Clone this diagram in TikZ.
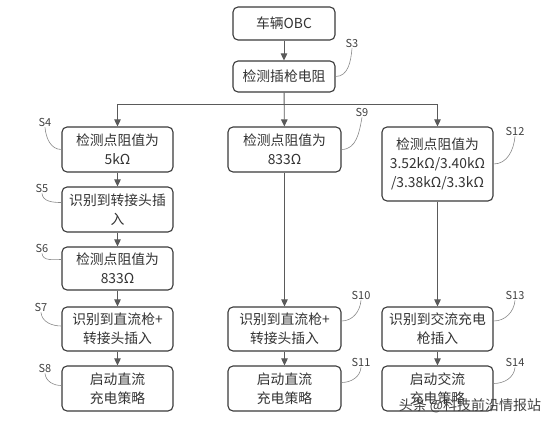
\documentclass[tikz,border=0pt]{standalone}
\usepackage{fontspec}
\newfontfamily\cjk{Noto Sans CJK SC}
\usetikzlibrary{arrows.meta}
\definecolor{boxline}{HTML}{3A3A3A}
\definecolor{wire}{HTML}{5A5A5A}
\definecolor{callout}{HTML}{8A8A8A}

\begin{document}
\begin{tikzpicture}[x=1pt,y=-1pt,font=\cjk\fontsize{13.8}{19}\selectfont,
  box/.style={draw=boxline,line width=1.1pt,rounded corners=5pt,align=center,inner sep=0pt,fill=white,text=black!80},
  lab/.style={font=\cjk\fontsize{11}{12}\selectfont,text=black!75,inner sep=1pt},
  link/.style={draw=wire,line width=0.9pt,-{Triangle[length=7pt,width=6.5pt]}},
  tie/.style={draw=callout,line width=0.6pt}]
  \useasboundingbox (0,0) rectangle (554,425);
  % top
  \node[box,minimum width=102pt,minimum height=33pt] (obc) at (284,23.5) {车辆OBC};
  \node[box,minimum width=102pt,minimum height=31pt] (plug) at (284,76.5) {检测插枪电阻};
  % left column
  \node[box,minimum width=111pt,minimum height=45pt] (r5k) at (117.5,149.5) {检测点阻值为\\5kΩ};
  \node[box,minimum width=111pt,minimum height=45pt] (adp) at (117.5,209.5) {识别到转接头插\\入};
  \node[box,minimum width=111pt,minimum height=43pt] (r833a) at (117.5,268.5) {检测点阻值为\\833Ω};
  \node[box,minimum width=111pt,minimum height=44pt] (dcadp) at (117.5,329) {识别到直流枪+\\转接头插入};
  \node[box,minimum width=111pt,minimum height=45pt] (dcrun) at (117.5,388.5) {启动直流\\充电策略};
  % middle column
  \node[box,minimum width=113pt,minimum height=45pt] (r833b) at (284.5,149.5) {检测点阻值为\\833Ω};
  \node[box,minimum width=113pt,minimum height=44pt] (dcgun) at (284.5,329) {识别到直流枪+\\转接头插入};
  \node[box,minimum width=113pt,minimum height=45pt] (dcrun2) at (284.5,388.5) {启动直流\\充电策略};
  % right column
  \node[box,minimum width=111pt,minimum height=74pt] (rac) at (437.5,164) {检测点阻值为\\3.52kΩ/3.40kΩ\\/3.38kΩ/3.3kΩ};
  \node[box,minimum width=111pt,minimum height=44pt] (acgun) at (437.5,329) {识别到交流充电\\枪插入};
  \node[box,minimum width=111pt,minimum height=45pt] (acrun) at (437.5,388.5) {启动交流\\充电策略};
  % step labels
  \node[lab] (s3) at (352,43) {S3};
  \node[lab] (s4) at (45,122) {S4};
  \node[lab] (s5) at (42,188) {S5};
  \node[lab] (s6) at (42,248) {S6};
  \node[lab] (s7) at (41,307) {S7};
  \node[lab] (s8) at (45,368) {S8};
  \node[lab] (s9) at (362,112) {S9};
  \node[lab] (s10) at (361,295) {S10};
  \node[lab] (s11) at (361,362) {S11};
  \node[lab] (s12) at (515,131) {S12};
  \node[lab] (s13) at (515,295) {S13};
  \node[lab] (s14) at (515,362) {S14};
  \coordinate (split) at (284,104);
  % arrows
  \draw[link] (obc) -- (plug);
  \draw[link] (plug) -- (r833b);
  \draw[link] (split) -| (r5k);
  \draw[link] (split) -| (rac);
  \draw[link] (r5k) -- (adp);
  \draw[link] (adp) -- (r833a);
  \draw[link] (r833a) -- (dcadp);
  \draw[link] (dcadp) -- (dcrun);
  \draw[link] (r833b) -- (dcgun);
  \draw[link] (dcgun) -- (dcrun2);
  \draw[link] (rac) -- (acgun);
  \draw[link] (acgun) -- (acrun);
  % callouts
  \draw[tie] (s3.south) to[out=-95,in=0] (plug.east);
  \draw[tie] (s9.south) to[out=-100,in=0] (r833b.east);
  \draw[tie] (s12.south) to[out=-95,in=0] (rac.east);
  \draw[tie] (s10.south) to[out=-95,in=0] ([yshift=8pt]dcgun.east);
  \draw[tie] (s11.south) to[out=-95,in=0] ([yshift=6pt]dcrun2.east);
  \draw[tie] (s13.south) to[out=-95,in=0] ([yshift=8pt]acgun.east);
  \draw[tie] (s14.south) to[out=-95,in=0] ([yshift=5pt]acrun.east);
  \draw[tie] (s4.south) to[out=-85,in=180] (r5k.west);
  \draw[tie] (s5.south) to[out=-85,in=180] ([yshift=7pt]adp.west);
  \draw[tie] (s6.south) to[out=-85,in=180] ([yshift=9pt]r833a.west);
  \draw[tie] (s7.south) to[out=-85,in=180] ([yshift=3pt]dcadp.west);
  \draw[tie] (s8.south) to[out=-85,in=180] ([yshift=3pt]dcrun.west);
  % watermark
  \node[font=\cjk\fontsize{14}{16}\selectfont,text=black!75,inner sep=0pt] (mark) at (470,406) {头条 @科技前沿情报站};
\end{tikzpicture}
\end{document}
